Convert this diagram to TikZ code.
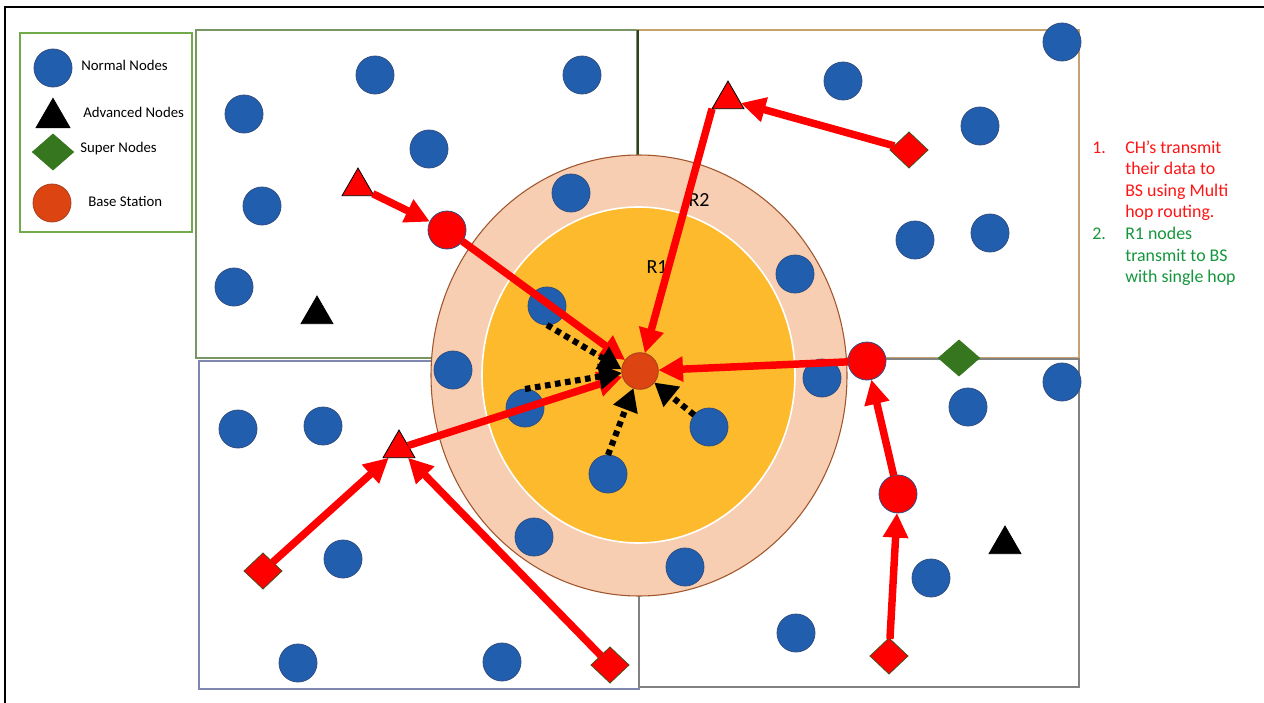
\documentclass[tikz,border=0pt]{standalone}
\usepackage{fontspec}
\setmainfont{Carlito}
\usetikzlibrary{arrows.meta,shapes.geometric}

\definecolor{nodeblue}{RGB}{34,94,174}
\definecolor{blueedge}{RGB}{47,78,130}
\definecolor{chred}{RGB}{255,0,0}
\definecolor{diaedge}{RGB}{70,80,30}
\definecolor{supergreen}{RGB}{54,118,30}
\definecolor{bsorange}{RGB}{220,68,18}
\definecolor{bsedge}{RGB}{165,65,30}
\definecolor{ringpeach}{RGB}{248,206,178}
\definecolor{ringedge}{RGB}{160,85,45}
\definecolor{coregold}{RGB}{252,186,44}
\definecolor{legendgreen}{RGB}{112,170,75}
\definecolor{tlframe}{RGB}{120,150,100}
\definecolor{trframe}{RGB}{198,162,112}
\definecolor{trleft}{RGB}{45,65,30}
\definecolor{blframe}{RGB}{125,135,175}
\definecolor{brframe}{RGB}{130,130,130}
\definecolor{listred}{RGB}{255,20,20}
\definecolor{listgreen}{RGB}{20,150,60}

\begin{document}
\begin{tikzpicture}[x=0.75pt,y=-0.75pt,
  normal/.style={circle, fill=nodeblue, draw=blueedge, line width=0.6pt,
    minimum size=28.5pt, inner sep=0pt, outer sep=0pt},
  chnode/.style={circle, fill=chred, draw=blueedge, line width=0.6pt,
    minimum size=28.5pt, inner sep=0pt, outer sep=0pt},
  bsnode/.style={circle, fill=bsorange, draw=bsedge, line width=0.6pt,
    minimum size=27.5pt, inner sep=0pt, outer sep=0pt},
  tri/.style={regular polygon, regular polygon sides=3, minimum size=27.7pt,
    inner sep=0pt, outer sep=0pt, draw=black, line width=0.6pt},
  advanced/.style={tri, fill=black},
  redtri/.style={tri, fill=chred},
  dia/.style={diamond, minimum width=28.5pt, minimum height=27pt,
    inner sep=0pt, outer sep=0pt},
  supernode/.style={dia, minimum width=31pt, fill=supergreen, draw=supergreen, line width=0.5pt},
  reddia/.style={dia, fill=chred, draw=diaedge, line width=0.6pt},
  hop/.style={draw=chred, line width=5.6pt, -{Triangle[length=18.5pt,width=18pt]}},
  single/.style={draw=black, line width=4.6pt, dash pattern=on 4.2pt off 3.4pt,
    -{Triangle[length=17pt,width=18.5pt]}},
  legendtext/.style={anchor=west, inner sep=0pt, font=\fontsize{11.1}{13}\selectfont},
  radiustext/.style={inner sep=0pt, font=\fontsize{15}{18}\selectfont},
  listtext/.style={anchor=base west, inner sep=0pt, font=\fontsize{13.4}{16}\selectfont},
]
\useasboundingbox (0,0) rectangle (1264,703);

% outer frame
\draw[line width=2pt] (5,703) -- (5,7) -- (1264,7);

% legend
\draw[legendgreen, line width=0.8pt] (20,33) rectangle (192,232);
\node[normal] (lgN) at (53,68) {};
\node[legendtext] (lgNt) at (81,65) {Normal Nodes};
\node[advanced, minimum size=29.5pt] (lgA) at (53,118) {};
\node[legendtext] (lgAt) at (83,112) {Advanced Nodes};
\node[supernode] (lgS) at (53,152) {};
\node[legendtext] (lgSt) at (80,149) {Super Nodes};
\node[bsnode, minimum size=28.5pt] (lgB) at (52,203) {};
\node[legendtext] (lgBt) at (88,201) {Base Station};

% the four field quadrants
\draw[tlframe, line width=0.9pt] (196,30) rectangle (637,358);
\draw[trframe, line width=0.9pt] (638,30) rectangle (1079,358);
\draw[trleft, line width=0.9pt] (638,30) -- (638,358);
\draw[blframe, line width=1.1pt] (199,361) rectangle (639,689);
\draw[brframe, line width=0.9pt] (639,359) rectangle (1079,687);

% transmission regions R2 and R1
\filldraw[fill=ringpeach, draw=ringedge, line width=0.8pt]
  (639,375.5) ellipse [x radius=208, y radius=220.5];
\filldraw[fill=coregold, draw=white, line width=1.2pt]
  (638.5,375) ellipse [x radius=156.5, y radius=168];
\node[radiustext] (r1) at (657,267) {R1};
\node[radiustext] (r2) at (699,200) {R2};

% normal nodes
\foreach \n/\px/\py in {
  b1/375/75, b2/582/75, b3/244/114, b4/429/149, b5/262/206, b6/234/287, b7/571/193,
  b8/1062/42, b9/843/81, b10/980/126, b11/915/240, b12/990/233, b13/795/274,
  b14/453/370, b15/547/306, b16/525/408, b17/608/474, b18/709/427, b19/822/378,
  b20/534/537, b21/685/567,
  b22/238/429, b23/323/426, b24/343/559, b25/298/663, b26/502/662,
  b27/968/407, b28/1062/382, b29/931/578, b30/796/633}
  \node[normal] (\n) at (\px,\py) {};

% advanced and super nodes
\node[advanced] (advTL) at (317,314.5) {};
\node[advanced] (advBR) at (1005,544.5) {};
\node[supernode] (sup) at (959,358) {};

% base station
\node[bsnode] (bs) at (640,371) {};

% cluster heads
\node[chnode] (chTL) at (447,230) {};
\node[chnode] (chR) at (867,361) {};
\node[chnode] (chB) at (898,494) {};
\node[redtri] (triTL) at (358,186.5) {};
\node[redtri] (triTR) at (728,99.5) {};
\node[redtri] (triBL) at (399,448.5) {};
\node[reddia] (dTR) at (909,150) {};
\node[reddia] (dBL1) at (263,571) {};
\node[reddia] (dBL2) at (610,665) {};
\node[reddia] (dBR) at (889,656) {};

% multi hop routes of the cluster heads
\draw[hop] (triTL) -- (chTL);
\draw[hop] (chTL) -- (bs);
\draw[hop] (dTR) -- (triTR);
\draw[hop] (triTR.corner 2) -- (bs);
\draw[hop] (chR) -- (bs);
\draw[hop] (chB) -- (chR);
\draw[hop] (dBR) -- (chB);
\draw[hop] (triBL) -- (bs);
\draw[hop] (dBL1) -- (triBL);
\draw[hop] (dBL2) -- (triBL);

% single hop from R1 nodes
\draw[single] (b15.south) -- (bs.175);
\draw[single] (b16.north) -- (bs.186);
\draw[single] (b17.north) -- (bs);
\draw[single] (b18) -- (bs);

% notes
\node[listtext, text=listred] (n1) at (1092,153) {1.};
\node[listtext, text=listred] (l1) at (1125,153) {CH’s transmit};
\node[listtext, text=listred] (l2) at (1125,174.6) {their data to};
\node[listtext, text=listred] (l3) at (1125,196.2) {BS using Multi};
\node[listtext, text=listred] (l4) at (1125,217.8) {hop routing.};
\node[listtext, text=listgreen] (n2) at (1092,239.4) {2.};
\node[listtext, text=listgreen] (l5) at (1125,239.4) {R1 nodes};
\node[listtext, text=listgreen] (l6) at (1125,261) {transmit to BS};
\node[listtext, text=listgreen] (l7) at (1125,282.6) {with single hop};
\end{tikzpicture}
\end{document}
